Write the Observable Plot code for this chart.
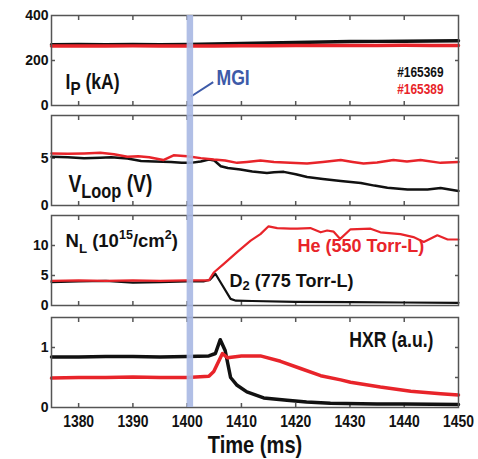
<!DOCTYPE html>
<html><head><meta charset="utf-8">
<script src="https://cdn.jsdelivr.net/npm/d3@7"></script>
<script src="https://cdn.jsdelivr.net/npm/@observablehq/plot@0.6"></script>
<style>
html,body{margin:0;padding:0;background:#fff;}
#chart{position:relative;width:478px;height:459px;overflow:hidden;background:#fff;}
#chart svg{position:absolute;left:0;top:0;}
</style></head><body><div id="chart"></div>
<script>
// ---------- data ----------
const xDomain = [1375, 1450];
const xTicks = [1380, 1390, 1400, 1410, 1420, 1430, 1440];
const xTickLabels = [1380, 1390, 1400, 1410, 1420, 1430, 1440, 1450];
const shotLabels = ["#165369", "#165389"];
const panelLabels = ["I_{P} (kA)", "V_{Loop} (V)", "N_{L} (10^{15}/cm^{2})", "HXR (a.u.)"];
const gasLabels = ["He (550 Torr-L)", "D_{2} (775 Torr-L)"];
const xAxisTitle = "Time (ms)";
const mgiLabel = "MGI";
const mgiTime = [1400.5];
const mgiLabelTime = 1405.4, mgiLabelValue = 93;
const mgiPointerTime = [1400.7, 1404.8];
const mgiPointerValue = [40, 104];

// Panel 1: plasma current (kA)
const ipTime = [1375,1380,1385,1390,1395,1400,1405,1410,1415,1420,1425,1430,1435,1440,1445,1450];
const ip165369 = [270,271,270,271,270,271,273,276,278,280,282,284,285,286,287,288];
const ip165389 = [265,265,264,265,265,265,265,266,266,267,267,267,267,268,267,267];
const ipTicksLabeled = [0, 200, 400];
const ipTicksMinor = [200];

// Panel 2: loop voltage (V)
const vTime165369 = [1375,1378,1381,1384,1386,1389,1391.5,1394,1397,1399,1400.6,1402.5,1404,1405,1406.2,1407.5,1409.8,1412,1414.7,1416,1417.8,1420,1422.1,1425,1428.3,1432,1434.5,1436.9,1440.6,1444.3,1446.7,1450];
const v165369 = [5.15,5.1,5.0,5.05,5.1,4.95,4.7,4.65,4.6,4.5,4.5,4.65,4.85,4.75,4.15,3.95,3.8,3.6,3.44,3.5,3.55,3.3,3.0,2.8,2.59,2.37,2.1,1.88,1.7,1.7,1.84,1.52];
const vTime165389 = [1375,1378,1381,1384,1386.5,1389,1391,1393,1395.6,1397.5,1400,1402.5,1404.9,1407,1409.2,1411,1413.5,1416,1419,1422.1,1425,1428.3,1430.5,1432.5,1435,1438,1440.5,1443,1446.7,1450];
const v165389 = [5.5,5.45,5.5,5.56,5.4,5.14,5.2,5.1,4.8,5.3,5.2,5.0,4.85,4.75,4.5,4.6,4.75,4.6,4.5,4.43,4.6,4.8,4.6,4.43,4.55,4.8,4.65,4.8,4.5,4.6];
const vTicksLabeled = [0, 5];
const vTicksMinor = [5];

// Panel 3: line density (1e15 / cm2)
const nTime165369 = [1375,1380,1385,1390,1395,1400,1403,1404.2,1405.2,1408,1409,1412,1420,1430,1440,1450];
const n165369 = [3.9,4.0,4.1,3.8,3.9,4.0,4.0,4.3,5.3,1.1,0.8,0.75,0.6,0.55,0.5,0.45];
const nTime165389 = [1375,1380,1385,1390,1395,1400,1404,1404.9,1406.7,1409.2,1411.7,1413.5,1415,1416.6,1419,1420.3,1422.7,1424.6,1425.8,1427,1428.2,1430.1,1433.8,1435.6,1439.3,1441.7,1443.6,1446.1,1448,1450];
const n165389 = [4.1,4.2,4.1,4.2,4.1,4.2,4.2,5.5,6.9,8.9,10.8,11.9,13.2,12.9,12.8,12.8,12.9,12.2,12.5,12.3,11.1,12.7,12.8,12.2,11.9,11.4,10.6,11.7,11.0,11.0];
const nTicksLabeled = [0, 5, 10];
const nTicksMinor = [5, 10];

// Panel 4: hard X-rays (a.u.)
const hTime165369 = [1375,1380,1385,1390,1395,1400,1404,1405.2,1406.1,1407,1408,1409.2,1411,1414.1,1418.4,1422,1426.4,1435,1440,1450];
const h165369 = [0.84,0.84,0.85,0.85,0.84,0.85,0.86,0.9,1.13,0.95,0.5,0.37,0.26,0.16,0.12,0.09,0.07,0.06,0.06,0.05];
const hTime165389 = [1375,1380,1385,1390,1395,1400,1404,1404.9,1406.5,1407.4,1410,1413.5,1417.2,1420.9,1424.6,1428.3,1430.1,1435.6,1441.2,1446.7,1450];
const h165389 = [0.49,0.5,0.5,0.51,0.5,0.5,0.52,0.6,0.9,0.83,0.86,0.86,0.77,0.65,0.53,0.46,0.42,0.34,0.27,0.23,0.21];
const hTicksLabeled = [0, 1];
const hTicksMinorLeft = [1];
const hTicksMinorRight = [0.5, 1];

// ---------- style ----------
const W = 478, H = 459;
const FONT = "'Liberation Sans', Arial, Helvetica, sans-serif";
const NARROW = "'Liberation Sans Narrow', 'Arial Narrow', 'Liberation Sans', Arial, sans-serif";
const FRAME = "#555";
const BLACK = "#111";
const RED = "#e8242a";
const BLUE = "#3d5aa8";
const BAND = "#a9b8e3";
const ML = 51, MR = 20;

const pairs = (t, v) => t.map((d, i) => [d, v[i]]);

function panel({top, bottom, yDomain, yLabels, leftTicks, rightTicks, marks}) {
  return Plot.plot({
    width: W, height: H,
    marginTop: top, marginBottom: H - bottom, marginLeft: ML, marginRight: MR,
    x: {domain: xDomain},
    y: {domain: yDomain},
    style: {background: "transparent", fontFamily: FONT, overflow: "visible", color: BLACK},
    marks: [
      Plot.axisY(yLabels, {anchor: "left", tickSize: 0, tickPadding: 3, fontSize: 14, fontWeight: "bold", fill: BLACK, tickFormat: d => String(d), label: null}),
      leftTicks.length ? Plot.axisY(leftTicks, {anchor: "left", tickSize: 4, dx: 4, fill: "none", stroke: FRAME, strokeWidth: 1.5, label: null}) : null,
      rightTicks.length ? Plot.axisY(rightTicks, {anchor: "right", tickSize: 4, dx: -4, fill: "none", stroke: FRAME, strokeWidth: 1.5, label: null}) : null,
      Plot.axisX(xTicks, {anchor: "top", tickSize: 4, dy: 4, fill: "none", stroke: FRAME, strokeWidth: 1.5, label: null}),
      Plot.axisX(xTicks, {anchor: "bottom", tickSize: 4, dy: -4, fill: "none", stroke: FRAME, strokeWidth: 1.5, label: null}),
      ...marks,
      Plot.frame({stroke: FRAME, strokeWidth: 1.5})
    ]
  });
}

const textOpts = (o) => ({text: d => d, fontWeight: "bold", lineAnchor: "bottom", ...o});

const p1 = panel({
  top: 15, bottom: 105, yDomain: [0, 400], yLabels: ipTicksLabeled, leftTicks: ipTicksMinor, rightTicks: ipTicksMinor,
  marks: [
    Plot.line(pairs(ipTime, ip165369), {stroke: BLACK, strokeWidth: 3.5}),
    Plot.line(pairs(ipTime, ip165389), {stroke: RED, strokeWidth: 3.5}),
    Plot.text([panelLabels[0]], textOpts({frameAnchor: "bottom-left", textAnchor: "start", dx: 14, dy: -17, fontSize: 21.5, fontFamily: NARROW, fill: BLACK})),
    Plot.text([shotLabels[0]], textOpts({frameAnchor: "top-right", textAnchor: "end", dx: -15, dy: 61, fontSize: 14.5, fontFamily: NARROW, fill: BLACK})),
    Plot.text([shotLabels[1]], textOpts({frameAnchor: "top-right", textAnchor: "end", dx: -15, dy: 78, fontSize: 14.5, fontFamily: NARROW, fill: RED})),
    Plot.link([0], {x1: () => mgiPointerTime[0], y1: () => mgiPointerValue[0], x2: () => mgiPointerTime[1], y2: () => mgiPointerValue[1], stroke: BLUE, strokeWidth: 2}),
    Plot.text([{t: mgiLabelTime, v: mgiLabelValue, s: mgiLabel}], {x: "t", y: "v", text: "s", textAnchor: "start", lineAnchor: "bottom", fontSize: 21.5, fontFamily: NARROW, fontWeight: "bold", fill: BLUE})
  ]
});

const p2 = panel({
  top: 115, bottom: 205, yDomain: [0, 9.5], yLabels: vTicksLabeled, leftTicks: vTicksMinor, rightTicks: vTicksMinor,
  marks: [
    Plot.line(pairs(vTime165369, v165369), {stroke: BLACK, strokeWidth: 2.5}),
    Plot.line(pairs(vTime165389, v165389), {stroke: RED, strokeWidth: 2.5}),
    Plot.text([panelLabels[1]], textOpts({frameAnchor: "bottom-left", textAnchor: "start", dx: 17, dy: -14, fontSize: 23.5, fontFamily: NARROW, fill: BLACK}))
  ]
});

const p3 = panel({
  top: 215, bottom: 305, yDomain: [0, 15], yLabels: nTicksLabeled, leftTicks: nTicksMinor, rightTicks: nTicksMinor,
  marks: [
    Plot.line(pairs(nTime165369, n165369), {stroke: BLACK, strokeWidth: 2.2}),
    Plot.line(pairs(nTime165389, n165389), {stroke: RED, strokeWidth: 2.2}),
    Plot.text([panelLabels[2]], textOpts({frameAnchor: "bottom-left", textAnchor: "start", dx: 14, dy: -59, fontSize: 18.5, fill: BLACK})),
    Plot.text([gasLabels[0]], textOpts({frameAnchor: "bottom-left", textAnchor: "start", dx: 246, dy: -53.5, fontSize: 18, fill: RED})),
    Plot.text([gasLabels[1]], textOpts({frameAnchor: "bottom-left", textAnchor: "start", dx: 178, dy: -19, fontSize: 18, fill: BLACK}))
  ]
});

const p4 = panel({
  top: 317, bottom: 407, yDomain: [0, 1.5], yLabels: hTicksLabeled, leftTicks: hTicksMinorLeft, rightTicks: hTicksMinorRight,
  marks: [
    Plot.line(pairs(hTime165369, h165369), {stroke: BLACK, strokeWidth: 3.5}),
    Plot.line(pairs(hTime165389, h165389), {stroke: RED, strokeWidth: 3.5}),
    Plot.text([panelLabels[3]], textOpts({frameAnchor: "top-right", textAnchor: "end", dx: -25, dy: 29, fontSize: 21.5, fontFamily: NARROW, fill: BLACK})),
    Plot.axisX(xTickLabels, {anchor: "bottom", tickSize: 0, tickPadding: 7, fontSize: 17, fontFamily: NARROW, fontWeight: "bold", fill: BLACK, tickFormat: d => String(d), label: null}),
    Plot.text([xAxisTitle], textOpts({frameAnchor: "bottom", textAnchor: "middle", dy: 45, fontSize: 24.5, fontFamily: NARROW, fill: BLACK}))
  ]
});

// MGI band spanning all four panels
const band = Plot.plot({
  width: W, height: H, marginTop: 15, marginBottom: H - 407, marginLeft: ML, marginRight: MR,
  x: {domain: xDomain, axis: null}, y: {domain: [0, 1], axis: null},
  style: {background: "transparent", overflow: "visible"},
  marks: [Plot.ruleX(mgiTime, {stroke: BAND, strokeWidth: 6.5, strokeOpacity: 0.9})]
});

const chart = document.getElementById("chart");
[p1, p2, p3, p4, band].forEach(s => chart.appendChild(s));

// sub/superscript rendering of labels
const richStyle = {
  "I_{P} (kA)": {sub: [0.86, 0.28]},
  "V_{Loop} (V)": {sub: [0.85, 0.29]},
  "N_{L} (10^{15}/cm^{2})": {sub: [0.72, 0.34], sup: [0.68, 0.38]},
  "D_{2} (775 Torr-L)": {sub: [0.72, 0.22]}
};
chart.querySelectorAll("text").forEach(el => {
  const s = el.textContent;
  const st = richStyle[s];
  if (!st) return;
  const base = parseFloat(getComputedStyle(el).fontSize);
  el.textContent = "";
  let cur = 0;
  const re = /([_^])\{([^}]*)\}|([^_^]+)/g;
  let m;
  while ((m = re.exec(s))) {
    const ts = document.createElementNS("http://www.w3.org/2000/svg", "tspan");
    let target = 0, size = base;
    if (m[1] === "_") { size = base * st.sub[0]; target = base * st.sub[1]; ts.textContent = m[2]; }
    else if (m[1] === "^") { size = base * st.sup[0]; target = -base * st.sup[1]; ts.textContent = m[2]; }
    else { ts.textContent = m[3]; }
    ts.setAttribute("font-size", size);
    ts.setAttribute("dy", target - cur);
    cur = target;
    el.appendChild(ts);
  }
});

// if no narrow face is installed, condense those labels horizontally instead
(function () {
  const c = document.createElement("canvas").getContext("2d");
  c.font = "bold 40px 'Liberation Sans Narrow', monospace";
  const wn = c.measureText("Time 1380 HXR").width;
  c.font = "bold 40px monospace";
  const wm = c.measureText("Time 1380 HXR").width;
  if (Math.abs(wn - wm) > 0.5) return; // narrow face available
  chart.querySelectorAll("text").forEach(el => {
    if (!/Narrow/.test(getComputedStyle(el).fontFamily)) return;
    const t = el.getAttribute("transform") || "";
    el.setAttribute("transform", t + " scale(0.82,1)");
  });
})();
</script></body></html>
